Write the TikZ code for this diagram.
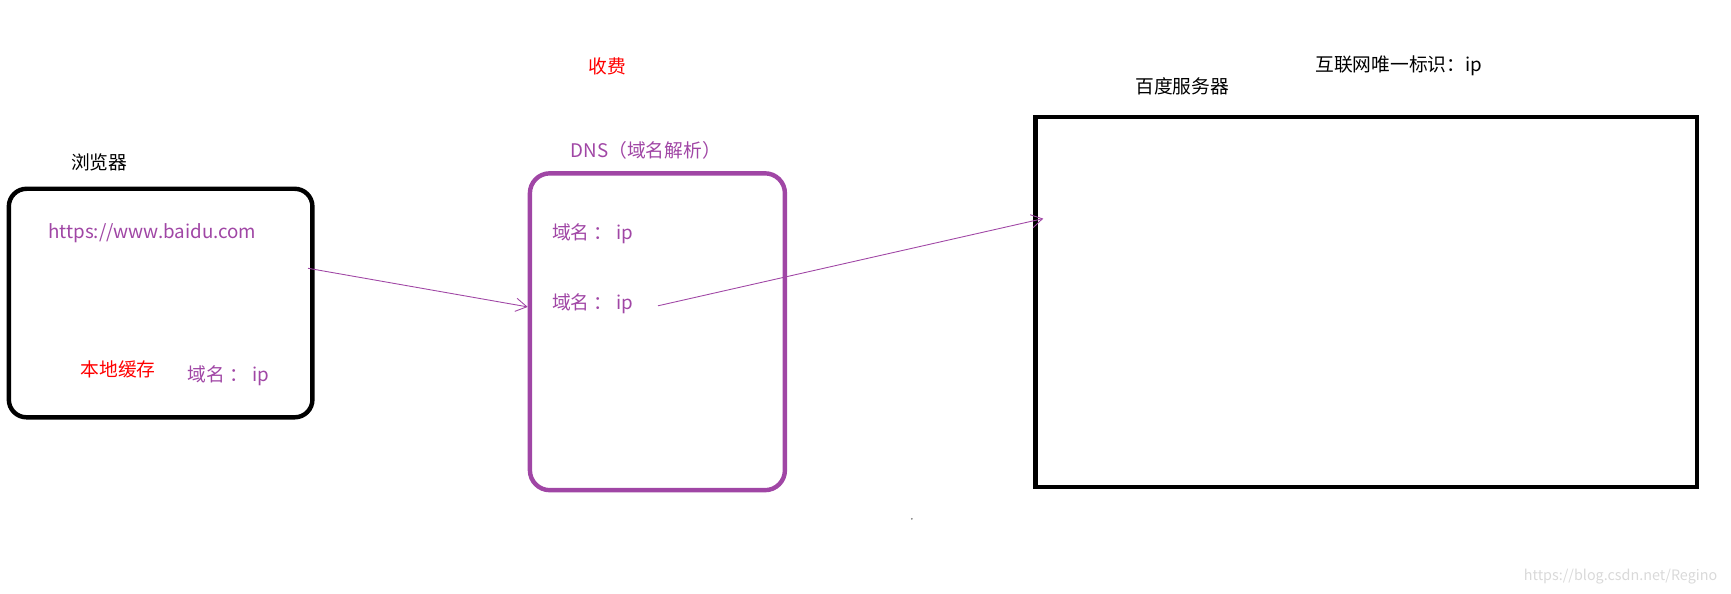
\documentclass[tikz,border=0pt]{standalone}
\usepackage{fontspec}
\setmainfont{Noto Sans CJK SC}
\usetikzlibrary{arrows.meta}
\definecolor{pur}{RGB}{160,70,165}
\begin{document}
\begin{tikzpicture}[x=0.5pt,y=-0.5pt,
  txt/.style={inner sep=0pt,font=\fontsize{8.5pt}{10pt}\selectfont},
  box/.style={line width=2pt},
  conn/.style={pur,line width=0.4pt,-{Straight Barb[length=5pt,width=6pt]}}]
\useasboundingbox (0,0) rectangle (1568,538);
\draw[box,rounded corners=8pt] (8,171) rectangle (283,378);
\draw[box,pur,rounded corners=9pt] (480,157) rectangle (711,444);
\draw[box] (938,106) rectangle (1537,441);
\node[txt] (lb) at (90,147) {浏览器};
\node[txt,pur] (url) at (138,211) {https://www.baidu.com};
\node[txt,red] (cache) at (107,335) {本地缓存};
\node[txt,pur] (c1) at (207,340) {域名 ： ip};
\node[txt,red] (fee) at (550,60) {收费};
\node[txt,pur] (dns) at (585,136) {DNS（域名解析）};
\node[txt,pur] (d1) at (537,212) {域名 ： ip};
\node[txt,pur] (d2) at (537,275) {域名 ： ip};
\node[txt] (srv) at (1071,78) {百度服务器};
\node[txt] (uid) at (1267,60) {互联网唯一标识：ip};
\node[inner sep=0pt,text=gray!30,font=\fontsize{6.5pt}{8pt}\selectfont] (wm) at (1468,522) {https://blog.csdn.net/Regino};
\coordinate (a1s) at (279,243);
\coordinate (a1e) at (478,278);
\coordinate (a2s) at (596,277);
\coordinate (a2e) at (945,198);
\draw[conn] (a1s) -- (a1e);
\draw[conn] (a2s) -- (a2e);
\fill[black!60] (826,470) circle (0.8);
\end{tikzpicture}
\end{document}
